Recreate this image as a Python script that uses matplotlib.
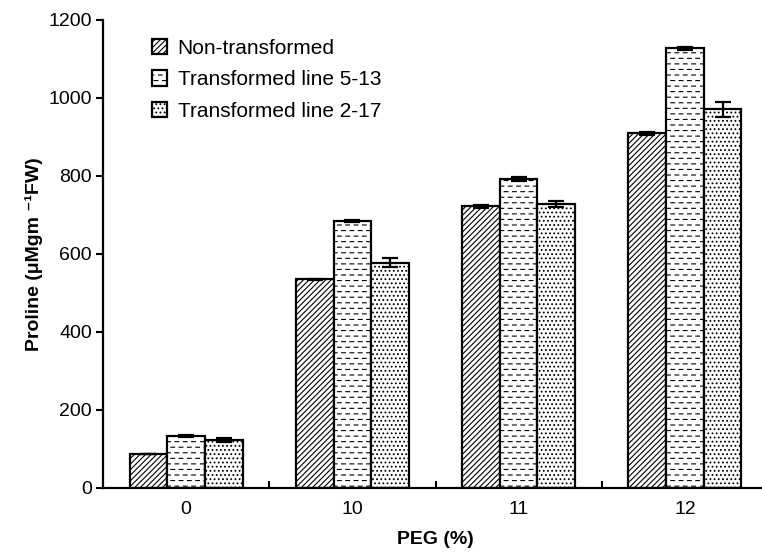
import numpy as np
import matplotlib
matplotlib.use("Agg")
import matplotlib.pyplot as plt
import matplotlib.hatch as mhatch
from matplotlib.path import Path

plt.rcParams['font.family'] = ['Liberation Sans', 'DejaVu Sans']
plt.rcParams['hatch.linewidth'] = 0.8

peg = ["0", "10", "11", "12"]
series = ["Non-transformed", "Transformed line 5-13", "Transformed line 2-17"]
non_tr = [87, 535, 722, 909]
non_tr_err = [1, 2, 4, 5]
line_513 = [134, 685, 792, 1127]
line_513_err = [2, 2, 6, 3]
line_217 = [123, 578, 728, 971]
line_217_err = [5, 12, 8, 20]


class DashedHatch(mhatch.HatchPatternBase):
    # rows of short dashes, every other row shifted (replaces the '-' hatch)
    def __init__(self, hatch, density):
        self.num_lines = int((hatch.count('-') + hatch.count('+')) * density)
        self.num_dashes = 12
        self.num_vertices = self.num_lines * self.num_dashes * 2

    def set_vertices_and_codes(self, vertices, codes):
        n = self.num_dashes
        k = 0
        for i in range(self.num_lines):
            y = (i + 0.5) / self.num_lines
            off = 0.5 / n if i % 2 else 0.0
            for j in range(n):
                x0 = j / n + off
                vertices[k] = (x0, y)
                vertices[k + 1] = (x0 + 0.45 / n, y)
                codes[k] = Path.MOVETO
                codes[k + 1] = Path.LINETO
                k += 2


mhatch._hatch_types[mhatch._hatch_types.index(mhatch.HorizontalHatch)] = DashedHatch

fig = plt.figure(figsize=(7.62, 5.52), dpi=100)
ax = fig.add_axes([103 / 762, 64 / 552, 665 / 762, 468 / 552])

x = np.arange(len(peg))
w = 0.227
hatches = ["//////", "---", "...."]
vals = [non_tr, line_513, line_217]
errs = [non_tr_err, line_513_err, line_217_err]
for i, (v, e, h, lab) in enumerate(zip(vals, errs, hatches, series)):
    ax.bar(x + (i - 1) * w, v, w, color="white", edgecolor="black", linewidth=1.6,
           hatch=h, label=lab, zorder=2)
    ax.errorbar(x + (i - 1) * w, v, yerr=e, fmt="none", ecolor="black",
                elinewidth=1.6, capsize=6, capthick=1.6, zorder=3)

ax.set_xlim(-0.5, 3.5)
ax.set_ylim(0, 1200)
ax.set_yticks(np.arange(0, 1201, 200))
ax.set_xticks(x)
ax.set_xticklabels(peg)
ax.set_xticks(x[:-1] + 0.5, minor=True)
ax.tick_params(axis="x", which="major", length=0, pad=9, labelsize=14)
ax.tick_params(axis="x", which="minor", direction="in", length=5, width=1.5)
ax.tick_params(axis="y", direction="out", length=5, width=1.5, labelsize=14, pad=3)
for s in ["top", "right"]:
    ax.spines[s].set_visible(False)
for s in ["left", "bottom"]:
    ax.spines[s].set_linewidth(1.6)

ax.set_xlabel("PEG (%)", fontsize=14, fontweight="bold", labelpad=10)
ax.set_ylabel("Proline (μMgm ⁻¹FW)", fontsize=14, fontweight="bold", labelpad=4)

ax.legend(loc="upper left", bbox_to_anchor=(0.045, 1.0), frameon=False, fontsize=15,
          handlelength=0.75, handleheight=0.75, handletextpad=0.5, labelspacing=0.6)

fig.savefig("out.png", dpi=100)
